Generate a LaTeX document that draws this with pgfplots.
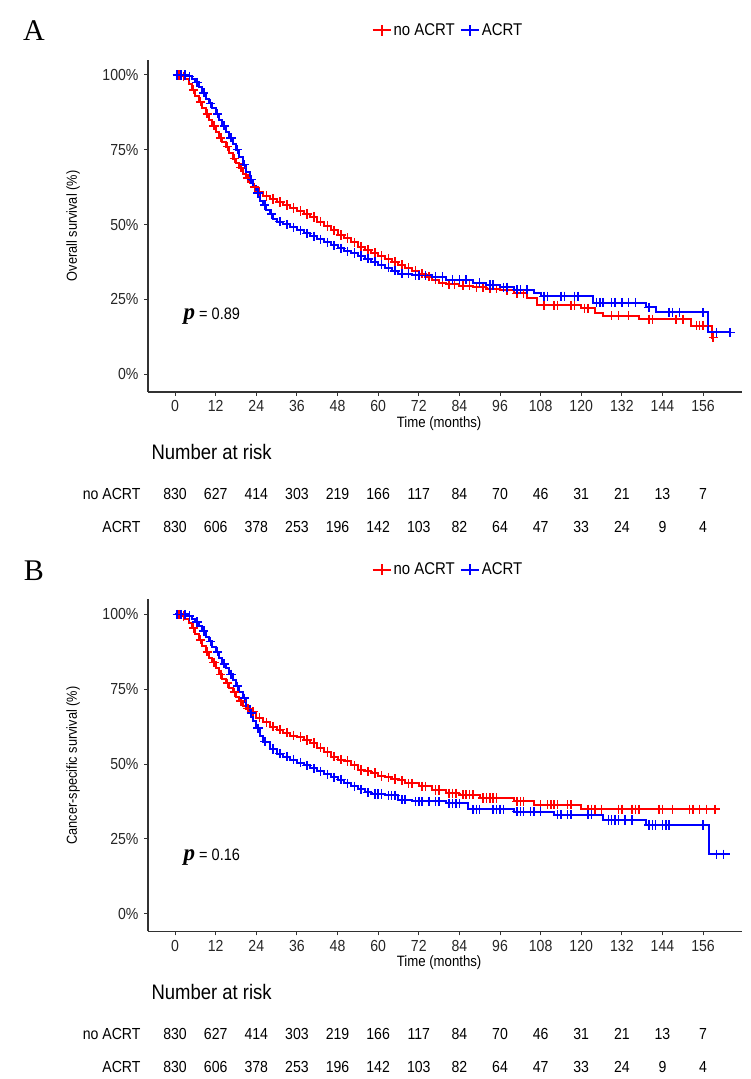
\documentclass[border=0pt]{standalone}
\usepackage{fontspec}
\setmainfont{Liberation Sans}[FakeStretch=0.88]
\newfontfamily\seriffont{Liberation Serif}
\usepackage{pgfplots}
\usepackage{pgfplotstable}
\pgfplotsset{compat=1.18}

% ---------- Panel A: overall survival ----------
\pgfplotstableread{
t s
0 100
2 99.5
3 98.5
4 97
5 95
6 93
7 91
8 89
9 87
10 85
11 83
12 81
13 79
14 77.5
15 76
16 74
17 72
18 70.5
19 69
20 67
21 65.5
22 64
23 62.5
24 61
26 59.5
28 58.5
30 57.5
32 56.5
34 55.5
36 54.5
38 53.5
40 52.5
42 51
44 49.5
46 48
48 46.5
50 45.5
52 44
54 42.5
56 41.5
58 40.5
60 39.5
62 38.5
64 37.5
66 36.5
68 35.5
70 34.5
72 33.5
74 32.5
76 31.5
78 30.5
80 30
84 29.5
88 29
92 28.5
96 28
100 27
104 25.5
107 23
120 22
124 20.5
126.5 19.5
137 18.3
152.5 16.2
158.5 12.2
159 12.2
}\osNo
\pgfplotstableread{
t s
1.2 100
2.5 99.5
5.5 95
7.5 91
9.5 87
11.5 83
13.5 79
15.5 76
17.5 72
19.5 69
21.5 65.5
23.5 62.5
25 61
27 59.5
29 58.5
31 57.5
33 56.5
35 55.5
37 54.5
39 53.5
41 52.5
43 51
45 49.5
47 48
49 46.5
51 45.5
53 44
55 42.5
57 41.5
59 40.5
61 39.5
63 38.5
65 37.5
67 36.5
69 35.5
71 34.5
73 33.5
75 32.5
77 31.5
79 30.5
81 30
82.5 30
85 29.5
87 29.5
89 29
91 29
93 28.5
95 28.5
98 28
101 27
103 27
109 23
112 23
113 23
117 23
118 23
121 22
122 22
129 19.5
131 19.5
134 19.5
140 18.3
141 18.3
148 18.3
150 18.3
154 16.2
155 16.2
156 16.2
159 12.2
}\osNoC
\pgfplotstableread{
t s
0 100
4 99.5
5 98.5
6 97.5
7 96
8 94
9 92
10 90.5
11 89
12 87
13 85
14 83
15 81
16 79
17 77
18 75
19 72.5
20 70
21 67.5
22 65
23 63
24 60.5
25 58
26 56.5
27 55
28 53.5
29 52
30 51
32 50
34 49
36 48
38 47
40 46
42 45
44 44
46 43
48 42
50 41
52 40.5
54 39.5
56 38.5
58 37.5
60 36.5
62 35.5
64 34.5
66 33.5
70 33
76 32.5
80 31.5
88 30.5
92 29.8
96 29
100 28.2
106 27
108 26
123.5 23.9
139 22.3
142 20.6
157.5 13.9
164 13.9
}\osYes
\pgfplotstableread{
t s
0.6 100
1.8 100
3 100
4.2 99.5
6.5 97.5
8.5 94
10.5 90.5
12.5 87
14.5 83
16.5 79
18.5 75
20.5 70
22.5 65
24.5 60.5
26.5 56.5
28.5 53.5
31 51
33 50
35 49
37 48
39 47
41 46
43 45
45 44
47 43
49 42
51 41
53 40.5
55 39.5
57 38.5
59 37.5
61 36.5
63 35.5
65 34.5
67 33.5
69 33.5
71 33
72 33
74 33
77 32.5
79 32.5
82 31.5
84 31.5
86 31.5
90 30.5
93 29.8
94 29.8
97 29
98 29
101 28.2
102 28.2
104 28.2
109 26
110 26
114 26
115 26
118 26
119 26
124.5 23.9
125.5 23.9
126.5 23.9
129 23.9
130 23.9
132 23.9
134 23.9
136 23.9
140 22.3
146 20.6
147 20.6
149 20.6
156 20.6
160 13.9
164 13.9
}\osYesC

% ---------- Panel B: cancer-specific survival ----------
\pgfplotstableread{
t s
0 100
2 99.5
3 98.5
4 97
5 95.5
6 93.5
7 91.5
8 89.5
9 87.5
10 85.5
11 84
12 82
13 80
14 78.5
15 77
16 75.5
17 74
18 72.5
19 71
20 69.5
21 68.5
22 67.5
24 65.5
26 64
28 62.5
30 61.5
32 60.5
34 59.5
36 59
38 58
40 57
42 55.5
44 54
46 52.5
48 51.5
50 51
52 49.5
54 48
56 47.5
58 47
60 46
62 45.5
64 45
66 44.5
68 43.5
72 42.5
76 41.3
80 40.2
84 39.7
90 38.6
100 37.5
106 36.4
120 34.9
160 34.9
}\csNo
\pgfplotstableread{
t s
1.2 100
2.5 99.5
5.5 95.5
7.5 91.5
9.5 87.5
11.5 84
13.5 80
15.5 77
17.5 74
19.5 71
21.5 68.5
23 67.5
25 65.5
27 64
29 62.5
31 61.5
33 60.5
35 59.5
37 59
39 58
41 57
43 55.5
45 54
47 52.5
49 51.5
51 51
53 49.5
55 48
57 47.5
59 47
61 46
63 45.5
65 45
67 44.5
69 43.5
70 43.5
73 42.5
74 42.5
77 41.3
78 41.3
81 40.2
82 40.2
83 40.2
85 39.7
86 39.7
87 39.7
88 39.7
91 38.6
92 38.6
93 38.6
94 38.6
95 38.6
101 37.5
102 37.5
103 37.5
108 36.4
110 36.4
111 36.4
112 36.4
113 36.4
116 36.4
117 36.4
122 34.9
123 34.9
124 34.9
126 34.9
131 34.9
132 34.9
135 34.9
136 34.9
137 34.9
143 34.9
144 34.9
147 34.9
152 34.9
153 34.9
155 34.9
157 34.9
159.5 34.9
}\csNoC
\pgfplotstableread{
t s
0 100
4 99.5
5 98.5
6 97.5
7 96
8 94.5
9 92.5
10 91
11 89
12 87.5
13 85.5
14 83.5
15 82
16 80
17 78
18 76
19 74
20 72
21 69.5
22 67
23 64.5
24 62
25 59.5
26 57.5
28 55
30 53.5
32 52.5
34 51.5
36 50.5
38 49.5
40 48.5
42 47.5
44 46.5
46 45.5
48 44.8
50 43.5
52 42.5
54 41.5
56 40.5
58 40
62 39.5
66 38
70 37.5
80 36.9
86.5 34.8
100 34.1
112 33
126.5 31.3
139 29.6
157.8 19.8
164 19.8
}\csYes
\pgfplotstableread{
t s
0.6 100
1.8 100
3 100
4.2 99.5
6.5 97.5
8.5 94.5
10.5 91
12.5 87.5
14.5 83.5
16.5 80
18.5 76
20.5 72
22.5 67
24.5 62
26.5 57.5
29 55
31 53.5
33 52.5
35 51.5
37 50.5
39 49.5
41 48.5
43 47.5
45 46.5
47 45.5
49 44.8
51 43.5
53 42.5
55 41.5
57 40.5
59 40
60 40
61 40
63 39.5
64 39.5
65 39.5
67 38
68 38
71 37.5
72 37.5
73 37.5
75 37.5
77 37.5
78 37.5
81 36.9
82 36.9
83 36.9
84 36.9
88 34.8
89 34.8
90 34.8
94 34.8
95 34.8
96 34.8
97 34.8
101 34.1
102 34.1
103 34.1
105 34.1
106 34.1
108 34.1
113 33
114 33
116 33
117 33
122 33
123 33
128 31.3
129 31.3
130 31.3
131 31.3
133 31.3
135 31.3
140 29.6
141 29.6
142 29.6
144 29.6
145 29.6
146 29.6
156 29.6
160 19.8
162 19.8
}\csYesC

% ---------- numbers at risk (same in both panels) ----------
\pgfplotstableread{
t row n
0 2 830
12 2 627
24 2 414
36 2 303
48 2 219
60 2 166
72 2 117
84 2 84
96 2 70
108 2 46
120 2 31
132 2 21
144 2 13
156 2 7
0 1 830
12 1 606
24 1 378
36 1 253
48 1 196
60 1 142
72 1 103
84 1 82
96 1 64
108 1 47
120 1 33
132 1 24
144 1 9
156 1 4
}\risk

\definecolor{axgray}{RGB}{50,50,50}
\pgfplotsset{
  kmaxis/.style={
    scale only axis, width=594pt, height=332pt,
    xmin=-8, xmax=167.5, ymin=-6, ymax=105,
    axis x line*=bottom, axis y line*=left,
    axis line style={line width=1.2pt, axgray, -},
    xtick={0,12,...,156}, ytick={0,25,50,75,100},
    yticklabels={0\%,25\%,50\%,75\%,100\%},
    tick align=outside, major tick length=4pt,
    tick style={axgray, line width=1pt},
    ticklabel style={font=\fontsize{16}{18}\selectfont, text=black!85},
    xticklabel style={yshift=-1pt},
    yticklabel style={xshift=-2pt},
    /pgf/number format/assume math mode=true,
    clip=false,
    xlabel={Time (months)},
    xlabel style={font=\fontsize{15}{17}\selectfont, at={(axis description cs:0.49,-0.094)}, anchor=center},
    ylabel style={font=\fontsize{14.5}{17}\selectfont, at={(axis description cs:-0.126,0.5)}, anchor=center},
  },
  riskaxis/.style={
    scale only axis, width=594pt, height=66pt,
    xmin=-8, xmax=167.5, ymin=0.5, ymax=2.5,
    hide x axis, axis y line*=left,
    y axis line style={draw=none},
    ytick={1,2}, yticklabels={ACRT,no ACRT},
    major tick length=0pt,
    yticklabel style={font=\fontsize{16}{18}\selectfont, xshift=-4pt},
    clip=false,
  },
  curve/.style={line width=2pt, const plot, mark=none},
  cens/.style={only marks, mark=+, mark size=4.6pt, line width=1.5pt},
}
\newcommand{\legendimg}[1]{\addlegendimage{legend image code/.code={
  \draw[#1, line width=1.9pt] (0pt,0pt) -- (18pt,0pt);
  \draw[#1, line width=1.7pt] (9pt,-5.5pt) -- (9pt,5.5pt);}}}

\begin{document}
\begin{tikzpicture}
\path[use as bounding box] (0,0) rectangle (750pt,1079pt);

% ===== Panel A =====
\node[font=\seriffont\fontsize{30}{32}\selectfont] at (34pt,1048pt) {A};
\begin{axis}[kmaxis, at={(148pt,687pt)}, anchor=south west,
  ylabel={Overall survival (\%)},
  legend style={at={(0.505,1.09)}, anchor=center, draw=none, fill=none,
      legend columns=2, font=\fontsize{17}{19}\selectfont,
      /tikz/every even column/.append style={column sep=3pt}}]
\legendimg{red}
\addlegendentry{no ACRT}
\legendimg{blue}
\addlegendentry{ACRT}
\addplot[red, curve] table[x=t,y=s] {\osNo};
\addplot[blue, curve] table[x=t,y=s] {\osYes};
\addplot[red, cens] table[x=t,y=s] {\osNoC};
\addplot[blue, cens] table[x=t,y=s] {\osYesC};
\node[anchor=west] at (axis cs:1.5,19.5) {{\seriffont\bfseries\itshape\fontsize{23}{24}\selectfont p}\fontsize{16.5}{18}\selectfont\ = 0.89};
\end{axis}
\begin{axis}[riskaxis, at={(148pt,535.5pt)}, anchor=south west]
\addplot[draw=none, nodes near coords, point meta=explicit symbolic,
  nodes near coords style={anchor=base, yshift=-5.8pt, font=\fontsize{16}{18}\selectfont}]
  table[x=t, y=row, meta=n] {\risk};
\node[anchor=west, font=\fontsize{21}{23}\selectfont] at (axis description cs:0,1.38) {Number at risk};
\end{axis}

% ===== Panel B =====
\node[font=\seriffont\fontsize{30}{32}\selectfont] at (34pt,508.5pt) {B};
\begin{axis}[kmaxis, at={(148pt,147.5pt)}, anchor=south west,
  ylabel={Cancer-specific survival (\%)},
  legend style={at={(0.505,1.09)}, anchor=center, draw=none, fill=none,
      legend columns=2, font=\fontsize{17}{19}\selectfont,
      /tikz/every even column/.append style={column sep=3pt}}]
\legendimg{red}
\addlegendentry{no ACRT}
\legendimg{blue}
\addlegendentry{ACRT}
\addplot[red, curve] table[x=t,y=s] {\csNo};
\addplot[blue, curve] table[x=t,y=s] {\csYes};
\addplot[red, cens] table[x=t,y=s] {\csNoC};
\addplot[blue, cens] table[x=t,y=s] {\csYesC};
\node[anchor=west] at (axis cs:1.5,19) {{\seriffont\bfseries\itshape\fontsize{23}{24}\selectfont p}\fontsize{16.5}{18}\selectfont\ = 0.16};
\end{axis}
\begin{axis}[riskaxis, at={(148pt,-4pt)}, anchor=south west]
\addplot[draw=none, nodes near coords, point meta=explicit symbolic,
  nodes near coords style={anchor=base, yshift=-5.8pt, font=\fontsize{16}{18}\selectfont}]
  table[x=t, y=row, meta=n] {\risk};
\node[anchor=west, font=\fontsize{21}{23}\selectfont] at (axis description cs:0,1.38) {Number at risk};
\end{axis}
\end{tikzpicture}
\end{document}
